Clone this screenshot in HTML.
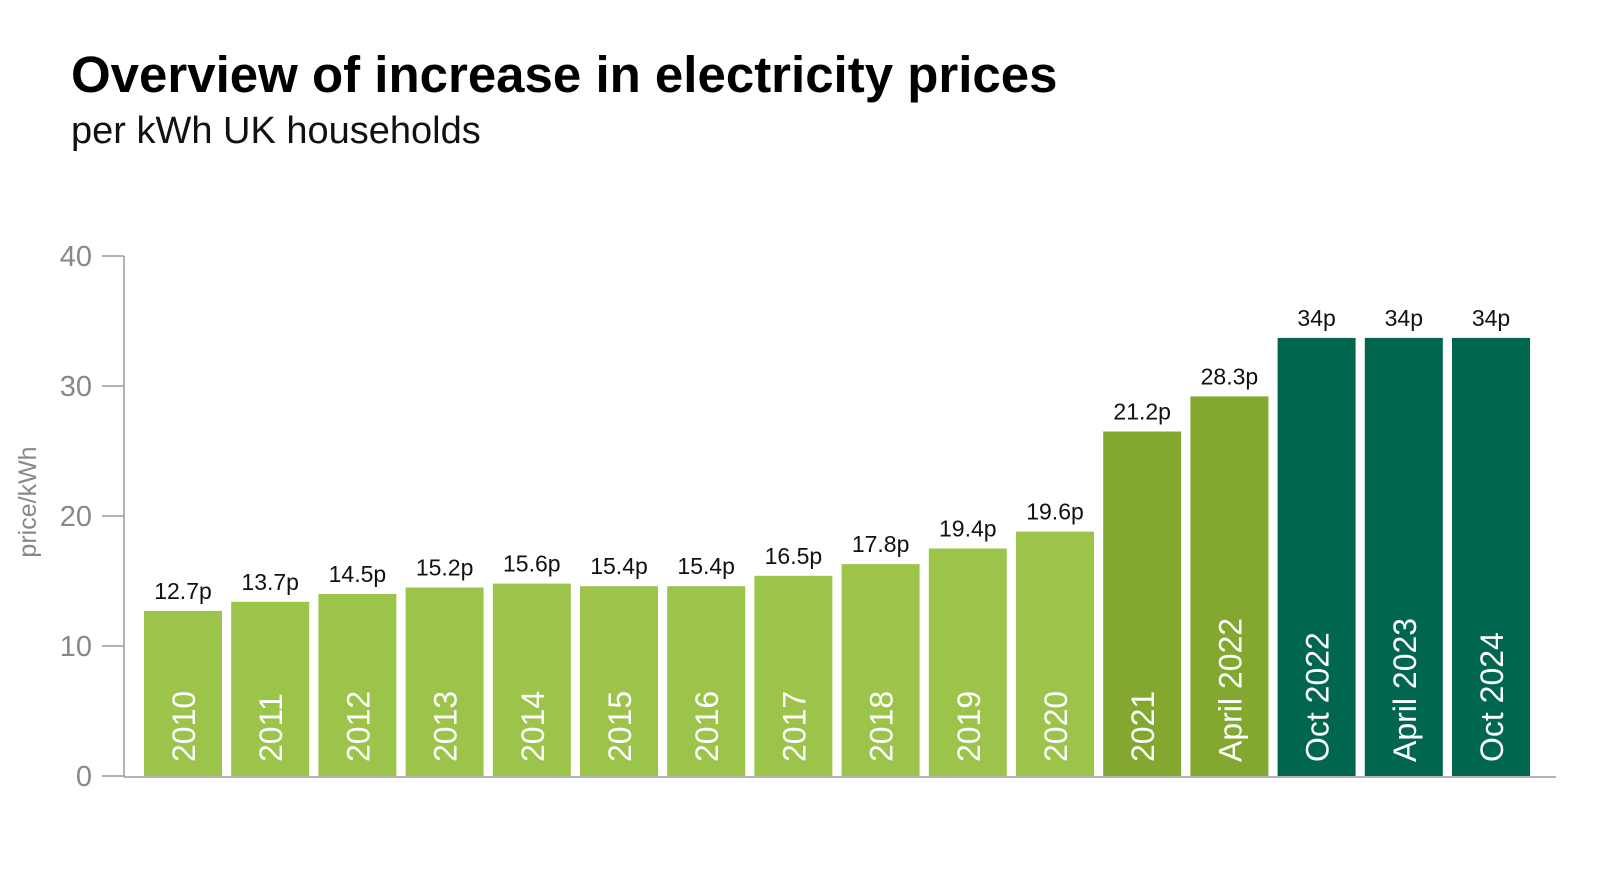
<!DOCTYPE html>
<html><head><meta charset="utf-8"><style>
body{margin:0;width:1600px;height:878px;background:#fff;overflow:hidden;font-family:"Liberation Sans",Arial,sans-serif}
</style></head><body>
<svg width="1600" height="878">
<text x="71" y="92" font-size="51" font-weight="bold" fill="#000">Overview of increase in electricity prices</text>
<text x="71" y="143" font-size="38" fill="#111">per kWh UK households</text>
<text transform="translate(36,502) rotate(-90)" text-anchor="middle" font-size="25" fill="#888">price/kWh</text>
<g id="axes"></g><g id="bars"></g>
</svg>
<script>
const categories=["2010","2011","2012","2013","2014","2015","2016","2017","2018","2019","2020","2021","April 2022","Oct 2022","April 2023","Oct 2024"];
const values=[12.7,13.4,14.0,14.5,14.8,14.6,14.6,15.4,16.3,17.5,18.8,26.5,29.2,33.7,33.7,33.7];
const labels=["12.7p","13.7p","14.5p","15.2p","15.6p","15.4p","15.4p","16.5p","17.8p","19.4p","19.6p","21.2p","28.3p","34p","34p","34p"];
const groups=[0,0,0,0,0,0,0,0,0,0,0,1,1,2,2,2];
const yTicks=[0,10,20,30,40];
const colors=["#9cc44b","#83a72f","#00674f"];
const NS="http://www.w3.org/2000/svg";
const y0=776,yScale=13,x0=144,step=87.2,bw=78;
const y=v=>y0-v*yScale;
function mk(t,a,p){const e=document.createElementNS(NS,t);for(const k in a)e.setAttribute(k,a[k]);p.appendChild(e);return e;}
const ax=document.getElementById('axes'),bg=document.getElementById('bars');
let l=mk('line',{x1:124,y1:256,x2:124,y2:777,stroke:'#999','stroke-width':1.5},ax);


l=mk('line',{x1:124,y1:777,x2:1556,y2:777,stroke:'#999','stroke-width':1.5},ax);


yTicks.forEach(v=>{
 const t=mk('line',{x1:102,y1:y(v),x2:124,y2:y(v),stroke:'#999','stroke-width':1.5},ax);
 
 
 const tx=mk('text',{x:92,y:y(v)+10,'text-anchor':'end','font-size':29,fill:'#888'},ax);
 tx.textContent=v;
 
 
});
categories.forEach((c,i)=>{
 const x=x0+i*step;
 const r=mk('rect',{x:x,y:y(values[i]),width:bw,height:values[i]*yScale,fill:colors[groups[i]]},bg);
 
 
 const lb=mk('text',{x:x+bw/2,y:y(values[i])-12,'text-anchor':'middle','font-size':23,fill:'#111'},bg);
 lb.textContent=labels[i];
 
 
 const cl=mk('text',{transform:'translate('+(x+bw/2+12)+',762) rotate(-90)','font-size':32,fill:'#fff'},bg);
 cl.textContent=c;
 
 
});
</script>
</body></html>
